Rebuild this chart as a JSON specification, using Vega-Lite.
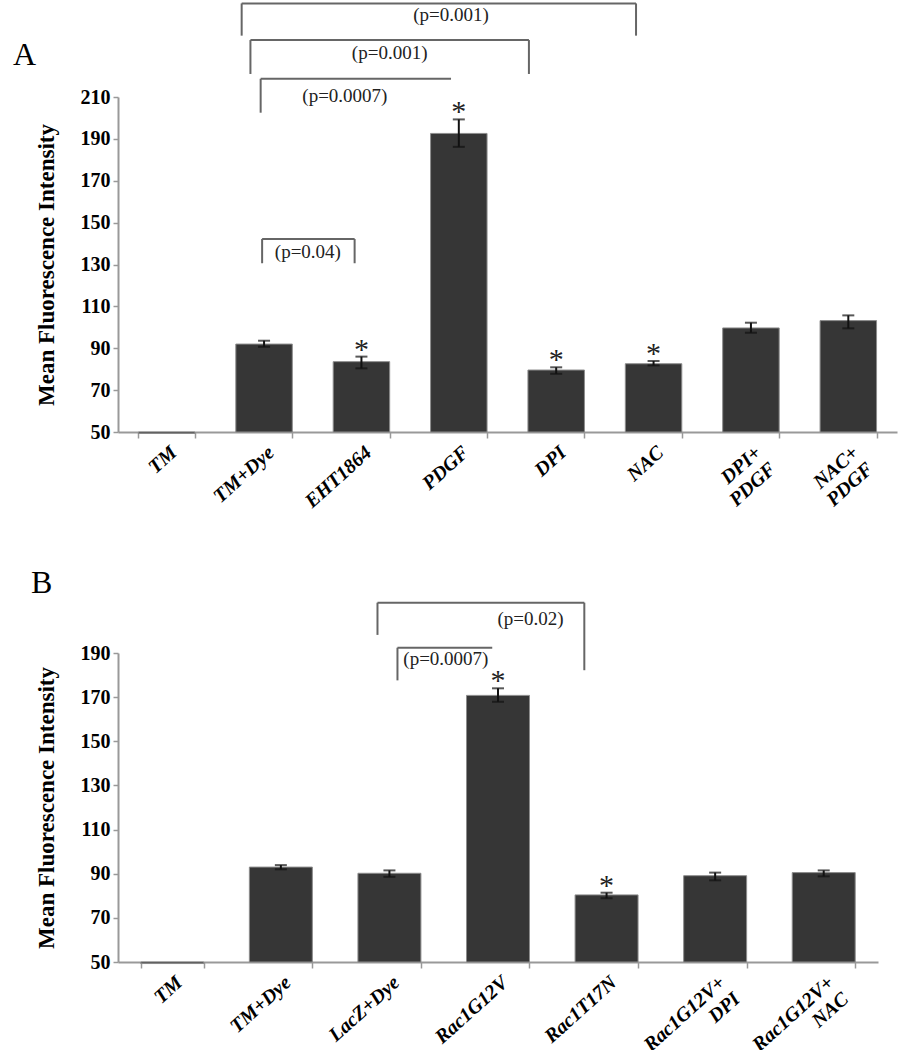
{
  "$schema": "https://vega.github.io/schema/vega-lite/v6.json",
  "background": "white",
  "padding": {"left": 13, "top": 2, "right": 5, "bottom": 2},
  "config": {
    "view": {"stroke": null},
    "font": "Liberation Serif",
    "axis": {"zindex": 1}
  },
  "spacing": 54,
  "datasets": {
    "a": [
      {"cat": "TM", "value": 49.3, "lo": null, "hi": null, "star": ""},
      {"cat": "TM+Dye", "value": 92.0, "lo": 90.7, "hi": 93.6, "star": ""},
      {"cat": "EHT1864", "value": 83.6, "lo": 80.4, "hi": 86.0, "star": "*"},
      {"cat": "PDGF", "value": 192.6, "lo": 186.2, "hi": 199.3, "star": "*"},
      {"cat": "DPI", "value": 79.6, "lo": 77.8, "hi": 80.9, "star": "*"},
      {"cat": "NAC", "value": 82.6, "lo": 81.8, "hi": 83.9, "star": "*"},
      {"cat": "DPI+ PDGF", "value": 99.7, "lo": 97.4, "hi": 102.2, "star": ""},
      {"cat": "NAC+ PDGF", "value": 103.2, "lo": 99.5, "hi": 105.7, "star": ""}
    ],
    "b": [
      {"cat": "TM", "value": 49.3, "lo": null, "hi": null, "star": ""},
      {"cat": "TM+Dye", "value": 93.0, "lo": 92.0, "hi": 93.9, "star": ""},
      {"cat": "LacZ+Dye", "value": 90.2, "lo": 88.6, "hi": 91.5, "star": ""},
      {"cat": "Rac1G12V", "value": 170.8, "lo": 167.9, "hi": 174.0, "star": "*"},
      {"cat": "Rac1T17N", "value": 80.4, "lo": 78.9, "hi": 81.4, "star": "*"},
      {"cat": "Rac1G12V+ DPI", "value": 89.1, "lo": 87.0, "hi": 90.5, "star": ""},
      {"cat": "Rac1G12V+ NAC", "value": 90.5, "lo": 88.8, "hi": 91.5, "star": ""}
    ],
    "brA": [
      {"x": 1.27, "x2": 1.27, "y": 254.7, "y2": 239.3},
      {"x": 1.27, "x2": 5.32, "y": 254.7, "y2": 254.7},
      {"x": 5.32, "x2": 5.32, "y": 254.7, "y2": 239.3},
      {"x": 1.36, "x2": 1.36, "y": 237.2, "y2": 221.0},
      {"x": 1.36, "x2": 4.22, "y": 237.2, "y2": 237.2},
      {"x": 4.22, "x2": 4.22, "y": 237.2, "y2": 221.0},
      {"x": 1.465, "x2": 1.465, "y": 218.7, "y2": 202.5},
      {"x": 1.465, "x2": 3.42, "y": 218.7, "y2": 218.7},
      {"x": 1.48, "x2": 1.48, "y": 142.2, "y2": 130.6},
      {"x": 1.48, "x2": 2.43, "y": 142.2, "y2": 142.2},
      {"x": 2.43, "x2": 2.43, "y": 142.2, "y2": 130.6}
    ],
    "pA": [
      {"x": 3.42, "y": 249.1, "label": "(p=0.001)"},
      {"x": 2.79, "y": 231.0, "label": "(p=0.001)"},
      {"x": 2.33, "y": 210.5, "label": "(p=0.0007)"},
      {"x": 1.95, "y": 136.1, "label": "(p=0.04)"}
    ],
    "brB": [
      {"x": 2.39, "x2": 2.39, "y": 212.8, "y2": 198.2},
      {"x": 2.39, "x2": 4.295, "y": 212.8, "y2": 212.8},
      {"x": 4.295, "x2": 4.295, "y": 212.8, "y2": 182.2},
      {"x": 2.574, "x2": 2.574, "y": 192.4, "y2": 177.6},
      {"x": 2.574, "x2": 3.447, "y": 192.4, "y2": 192.4}
    ],
    "pB": [
      {"x": 3.80, "y": 205.3, "label": "(p=0.02)"},
      {"x": 3.02, "y": 187.2, "label": "(p=0.0007)"}
    ]
  },
  "vconcat": [
    {
      "width": 779,
      "height": 335,
      "title": {"text": "A", "anchor": "start", "frame": "group", "font": "Liberation Serif", "fontSize": 32, "fontWeight": "normal", "color": "black", "baseline": "alphabetic", "offset": 0, "dy": 95, "dx": -105},
      "resolve": {"scale": {"x": "independent"}},
      "layer": [
        {
          "data": {"name": "a"},
          "layer": [
            {
              "mark": {"type": "bar", "fill": "#363636", "stroke": "#8c8c8c", "strokeWidth": 1},
              "encoding": {
                "x": {"field": "cat", "type": "nominal", "sort": null,
                  "scale": {"domain": ["TM", "TM+Dye", "EHT1864", "PDGF", "DPI", "NAC", "DPI+ PDGF", "NAC+ PDGF"], "paddingInner": 0.42, "paddingOuter": 0.21},
                  "axis": {"title": null, "labelAngle": -42, "labelFont": "Liberation Serif", "labelFontSize": 20, "labelFontWeight": "bold", "labelFontStyle": "italic", "labelColor": "black", "labelOverlap": false, "labelFlush": false, "labelPadding": 4, "labelExpr": "split(datum.label, ' ')", "labelLineHeight": 22, "tickBand": "extent", "tickSize": 6, "tickColor": "#999", "tickWidth": 1.5, "domainColor": "#999", "domainWidth": 2}},
                "y": {"field": "value", "type": "quantitative",
                  "scale": {"domain": [50, 210], "nice": false, "zero": false},
                  "axis": {"title": "Mean Fluorescence Intensity", "titleFont": "Liberation Serif", "titleFontSize": 23, "titleFontWeight": "bold", "titleColor": "black", "titlePadding": 22, "values": [50, 70, 90, 110, 130, 150, 170, 190, 210], "labelFont": "Liberation Serif", "labelFontSize": 20, "labelFontWeight": "bold", "labelColor": "black", "labelPadding": 3, "tickSize": 5, "tickColor": "#999", "tickWidth": 1.5, "domainColor": "#999", "domainWidth": 2, "grid": false}},
                "y2": {"datum": 50}
              }
            },
            {
              "mark": {"type": "errorbar", "ticks": true, "size": 12, "thickness": 2, "color": "#111"},
              "encoding": {
                "x": {"field": "cat", "type": "nominal", "sort": null, "title": null},
                "y": {"field": "lo", "type": "quantitative", "title": "Mean Fluorescence Intensity", "scale": {"domain": [50, 210], "nice": false, "zero": false}},
                "y2": {"field": "hi"}
              }
            },
            {
              "mark": {"type": "text", "font": "Liberation Serif", "fontSize": 30, "baseline": "alphabetic", "dy": 2, "color": "#222"},
              "encoding": {
                "x": {"field": "cat", "type": "nominal", "sort": null, "title": null},
                "y": {"field": "hi", "type": "quantitative", "title": "Mean Fluorescence Intensity", "scale": {"domain": [50, 210], "nice": false, "zero": false}},
                "text": {"field": "star"}
              }
            }
          ]
        },
        {
          "layer": [
            {
              "data": {"name": "brA"},
              "mark": {"type": "rule", "color": "#666", "strokeWidth": 2},
              "encoding": {
                "x": {"field": "x", "type": "quantitative", "scale": {"domain": [0, 8], "nice": false, "zero": false}, "axis": null},
                "x2": {"field": "x2"},
                "y": {"field": "y", "type": "quantitative", "title": "Mean Fluorescence Intensity", "scale": {"domain": [50, 210], "nice": false, "zero": false}},
                "y2": {"field": "y2"}
              }
            },
            {
              "data": {"name": "pA"},
              "mark": {"type": "text", "font": "Liberation Serif", "fontSize": 19, "color": "#222", "baseline": "middle"},
              "encoding": {
                "x": {"field": "x", "type": "quantitative", "scale": {"domain": [0, 8], "nice": false, "zero": false}, "axis": null},
                "y": {"field": "y", "type": "quantitative", "title": "Mean Fluorescence Intensity", "scale": {"domain": [50, 210], "nice": false, "zero": false}},
                "text": {"field": "label"}
              }
            }
          ]
        }
      ]
    },
    {
      "width": 760,
      "height": 309,
      "title": {"text": "B", "anchor": "start", "frame": "group", "font": "Liberation Serif", "fontSize": 32, "fontWeight": "normal", "color": "black", "baseline": "alphabetic", "offset": 0, "dy": 23, "dx": -87},
      "resolve": {"scale": {"x": "independent"}},
      "layer": [
        {
          "data": {"name": "b"},
          "layer": [
            {
              "mark": {"type": "bar", "fill": "#363636", "stroke": "#8c8c8c", "strokeWidth": 1},
              "encoding": {
                "x": {"field": "cat", "type": "nominal", "sort": null,
                  "scale": {"domain": ["TM", "TM+Dye", "LacZ+Dye", "Rac1G12V", "Rac1T17N", "Rac1G12V+ DPI", "Rac1G12V+ NAC"], "paddingInner": 0.42, "paddingOuter": 0.21},
                  "axis": {"title": null, "labelAngle": -42, "labelFont": "Liberation Serif", "labelFontSize": 20, "labelFontWeight": "bold", "labelFontStyle": "italic", "labelColor": "black", "labelOverlap": false, "labelFlush": false, "labelPadding": 4, "labelExpr": "split(datum.label, ' ')", "labelLineHeight": 22, "tickBand": "extent", "tickSize": 6, "tickColor": "#999", "tickWidth": 1.5, "domainColor": "#999", "domainWidth": 2}},
                "y": {"field": "value", "type": "quantitative",
                  "scale": {"domain": [50, 190], "nice": false, "zero": false},
                  "axis": {"title": "Mean Fluorescence Intensity", "titleFont": "Liberation Serif", "titleFontSize": 23, "titleFontWeight": "bold", "titleColor": "black", "titlePadding": 22, "values": [50, 70, 90, 110, 130, 150, 170, 190], "labelFont": "Liberation Serif", "labelFontSize": 20, "labelFontWeight": "bold", "labelColor": "black", "labelPadding": 3, "tickSize": 5, "tickColor": "#999", "tickWidth": 1.5, "domainColor": "#999", "domainWidth": 2, "grid": false}},
                "y2": {"datum": 50}
              }
            },
            {
              "mark": {"type": "errorbar", "ticks": true, "size": 12, "thickness": 2, "color": "#111"},
              "encoding": {
                "x": {"field": "cat", "type": "nominal", "sort": null, "title": null},
                "y": {"field": "lo", "type": "quantitative", "title": "Mean Fluorescence Intensity", "scale": {"domain": [50, 190], "nice": false, "zero": false}},
                "y2": {"field": "hi"}
              }
            },
            {
              "mark": {"type": "text", "font": "Liberation Serif", "fontSize": 30, "baseline": "alphabetic", "dy": 2, "color": "#222"},
              "encoding": {
                "x": {"field": "cat", "type": "nominal", "sort": null, "title": null},
                "y": {"field": "hi", "type": "quantitative", "title": "Mean Fluorescence Intensity", "scale": {"domain": [50, 190], "nice": false, "zero": false}},
                "text": {"field": "star"}
              }
            }
          ]
        },
        {
          "layer": [
            {
              "data": {"name": "brB"},
              "mark": {"type": "rule", "color": "#666", "strokeWidth": 2},
              "encoding": {
                "x": {"field": "x", "type": "quantitative", "scale": {"domain": [0, 7], "nice": false, "zero": false}, "axis": null},
                "x2": {"field": "x2"},
                "y": {"field": "y", "type": "quantitative", "title": "Mean Fluorescence Intensity", "scale": {"domain": [50, 190], "nice": false, "zero": false}},
                "y2": {"field": "y2"}
              }
            },
            {
              "data": {"name": "pB"},
              "mark": {"type": "text", "font": "Liberation Serif", "fontSize": 19, "color": "#222", "baseline": "middle"},
              "encoding": {
                "x": {"field": "x", "type": "quantitative", "scale": {"domain": [0, 7], "nice": false, "zero": false}, "axis": null},
                "y": {"field": "y", "type": "quantitative", "title": "Mean Fluorescence Intensity", "scale": {"domain": [50, 190], "nice": false, "zero": false}},
                "text": {"field": "label"}
              }
            }
          ]
        }
      ]
    }
  ]
}
